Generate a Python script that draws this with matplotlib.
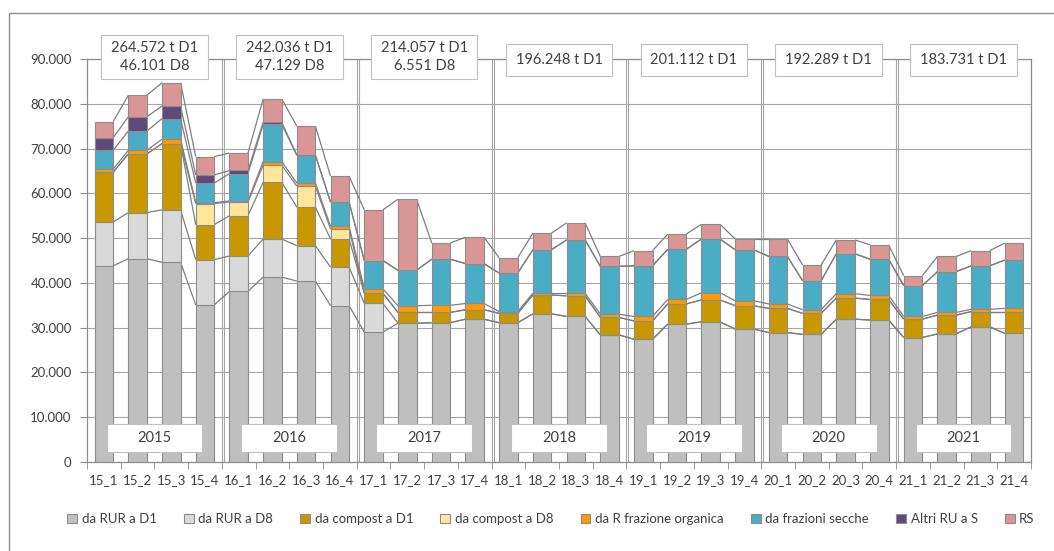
import numpy as np
import matplotlib.pyplot as plt
from matplotlib.patches import Rectangle
from matplotlib.collections import LineCollection
from matplotlib.ticker import FuncFormatter

plt.rcParams['font.family'] = ['Lato', 'DejaVu Sans']

quarters = ['15_1', '15_2', '15_3', '15_4', '16_1', '16_2', '16_3', '16_4',
            '17_1', '17_2', '17_3', '17_4', '18_1', '18_2', '18_3', '18_4',
            '19_1', '19_2', '19_3', '19_4', '20_1', '20_2', '20_3', '20_4',
            '21_1', '21_2', '21_3', '21_4']
years = ['2015', '2016', '2017', '2018', '2019', '2020', '2021']
year_notes = ['264.572 t D1\n46.101 D8', '242.036 t D1\n47.129 D8',
              '214.057 t D1\n6.551 D8', '196.248 t D1', '201.112 t D1',
              '192.289 t D1', '183.731 t D1']

labels = ['da RUR a D1', 'da RUR a D8', 'da compost a D1', 'da compost a D8',
          'da R frazione organica', 'da frazioni secche', 'Altri RU a S', 'RS']
colors = ['#BFBFBF', '#D9D9D9', '#C99700', '#FFE699',
          '#FF9900', '#4BACC6', '#604A7B', '#D99694']

# values in tonnes (thousands)
rur_d1 = [43.8, 45.4, 44.6, 35.1, 38.1, 41.3, 40.4, 34.9,
          29.0, 31.0, 31.1, 31.9, 31.1, 33.1, 32.5, 28.4,
          27.4, 30.8, 31.3, 29.7, 28.9, 28.5, 31.9, 31.7,
          27.8, 28.6, 30.2, 28.7]
rur_d8 = [9.8, 10.3, 11.7, 10.1, 7.9, 8.5, 7.9, 8.6,
          6.4, 0, 0, 0, 0, 0, 0, 0,
          0, 0, 0, 0, 0, 0, 0, 0,
          0, 0, 0, 0]
compost_d1 = [11.1, 13.1, 14.8, 7.8, 9.0, 12.7, 8.6, 6.3,
              2.3, 2.4, 2.3, 2.1, 2.1, 4.2, 4.6, 3.9,
              4.1, 4.5, 4.9, 5.2, 5.4, 4.7, 4.7, 4.6,
              4.1, 4.2, 3.4, 4.9]
compost_d8 = [0, 0, 0, 4.7, 3.1, 3.8, 4.7, 2.2,
              0, 0, 0, 0, 0, 0, 0, 0,
              0, 0, 0, 0, 0, 0, 0, 0,
              0, 0, 0, 0]
r_organica = [0.7, 0.8, 1.0, 0.2, 0.2, 0.8, 0.7, 0.6,
              1.0, 1.5, 1.6, 1.4, 0.4, 0.4, 0.6, 0.7,
              1.0, 1.0, 1.6, 1.1, 1.0, 0.8, 1.0, 0.9,
              0.6, 0.6, 0.5, 0.7]
fraz_secche = [4.2, 4.3, 4.6, 4.4, 6.1, 8.3, 6.2, 5.4,
               6.3, 7.9, 10.3, 8.9, 8.6, 9.7, 11.9, 10.7,
               11.3, 11.2, 12.0, 11.4, 10.6, 6.5, 8.9, 8.1,
               6.9, 9.1, 9.7, 10.8]
altri_ru = [2.8, 3.2, 2.8, 1.8, 0.7, 0.5, 0, 0,
            0, 0, 0, 0, 0, 0, 0, 0,
            0, 0, 0, 0, 0, 0, 0, 0,
            0, 0, 0, 0]
rs = [3.6, 4.8, 5.2, 4.1, 3.9, 5.2, 6.5, 5.8,
      11.3, 15.9, 3.6, 5.9, 3.4, 3.7, 3.8, 2.2,
      3.4, 3.4, 3.3, 2.4, 3.9, 3.5, 3.1, 3.2,
      2.2, 3.4, 3.4, 3.8]

series = [rur_d1, rur_d8, compost_d1, compost_d8, r_organica, fraz_secche, altri_ru, rs]

fig = plt.figure(figsize=(10.54, 5.51), dpi=100)
ax = fig.add_axes([87 / 1054, 1 - 462 / 551, 944 / 1054, 403 / 551])

x = np.arange(len(quarters))
w = 0.55
bottom = np.zeros(len(quarters))
segs = []
for vals, lab, col in zip(series, labels, colors):
    v = np.array(vals) * 1000
    ax.bar(x, v, w, bottom=bottom, color=col, edgecolor='#8C8C8C', linewidth=0.8,
           label=lab, zorder=3)
    bottom = bottom + v
    for i in range(len(x) - 1):
        segs.append([(x[i] + w / 2, bottom[i]), (x[i + 1] - w / 2, bottom[i + 1])])
ax.add_collection(LineCollection(segs, colors='#7F7F7F', linewidths=0.9, zorder=2))

ax.set_xlim(-0.5, len(quarters) - 0.5)
ax.set_ylim(0, 90000)
ax.set_yticks(np.arange(0, 90001, 10000))
ax.yaxis.set_major_formatter(FuncFormatter(lambda v, p: f'{int(v):,}'.replace(',', '.')))
ax.set_xticks(x)
ax.set_xticklabels(quarters, fontsize=9.5, color='#404040')
ax.set_xticks(np.arange(-0.5, len(quarters), 1), minor=True)
ax.tick_params(axis='x', which='major', length=0, pad=9)
ax.tick_params(axis='x', which='minor', length=5, color='#8C8C8C', direction='out')
ax.tick_params(axis='y', length=5, color='#8C8C8C', labelsize=9.5, labelcolor='#404040', pad=6)
ax.grid(axis='y', color='#A6A6A6', linewidth=0.8, zorder=0)
for s in ['left', 'bottom', 'right', 'top']:
    ax.spines[s].set_color('#8C8C8C')
    ax.spines[s].set_linewidth(0.9)

# year separators
for b in np.arange(3.5, len(quarters) - 1, 4):
    ax.axvline(b, color='#A6A6A6', linewidth=0.8, zorder=1)
    ax.axvline(b + 0.06, color='#A6A6A6', linewidth=0.8, zorder=1)

# year boxes at bottom and totals at top
for k, (yr, note) in enumerate(zip(years, year_notes)):
    cx = 4 * k + 1.5
    ax.add_patch(Rectangle((cx - 1.42, 2300), 2.84, 6200, facecolor='white',
                           edgecolor='#BFBFBF', linewidth=0.8, zorder=5))
    ax.text(cx, 5400, yr, ha='center', va='center', fontsize=10.5, color='#404040', zorder=6)
    two = '\n' in note
    h = 9800 if two else 7200
    ax.add_patch(Rectangle((cx - 1.58, 90000 - h / 2 + (400 if two else -300)), 3.16, h,
                           facecolor='white', edgecolor='#BFBFBF', linewidth=0.8,
                           zorder=5, clip_on=False))
    ax.text(cx, 90000 + (400 if two else -300), note, ha='center', va='center',
            fontsize=10.5, color='#404040', linespacing=1.35, zorder=6, clip_on=False)

ax.legend(loc='center', bbox_to_anchor=(551 / 1054, 1 - 519 / 551),
          bbox_transform=fig.transFigure, ncol=8, frameon=False, fontsize=9.5,
          handlelength=0.75, handleheight=0.75, handletextpad=0.35, columnspacing=2.05,
          labelcolor='#404040')

# chart frame
fig.patches.append(Rectangle((9 / 1054, -0.05), 1.2, 1.05 - 13 / 551, transform=fig.transFigure,
                             fill=False, edgecolor='#8C8C8C', linewidth=1))

fig.savefig('out.png', dpi=100)
